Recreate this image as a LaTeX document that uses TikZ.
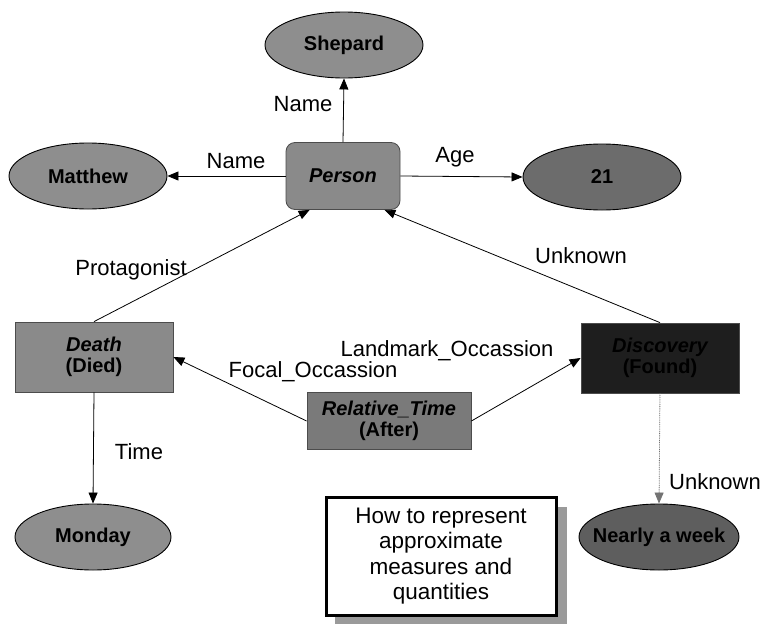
\documentclass[tikz,border=0pt]{standalone}
\usepackage{fontspec}
\setmainfont{Liberation Sans}
\usetikzlibrary{arrows.meta,shapes.geometric}
\definecolor{valfill}{HTML}{8E8E8E}
\definecolor{agefill}{HTML}{6C6C6C}
\definecolor{weekfill}{HTML}{5E5E5E}
\definecolor{framefill}{HTML}{8A8A8A}
\definecolor{relfill}{HTML}{7A7A7A}
\definecolor{discfill}{HTML}{1E1E1E}
\definecolor{shadowfill}{HTML}{9A9A9A}
\tikzset{
  valnode/.style={ellipse, draw=black, line width=0.9pt, fill=valfill,
    minimum width=158pt, minimum height=66pt, inner sep=0pt,
    font=\fontsize{20}{21}\selectfont\bfseries},
  framebox/.style={rectangle, draw=black!70, line width=0.8pt, fill=framefill,
    minimum width=158pt, minimum height=70pt, inner sep=0pt, align=center,
    font=\fontsize{20}{21}\selectfont\bfseries},
  rel/.style={line width=0.8pt, -{Triangle[length=11pt,width=9pt]}},
  lbl/.style={font=\fontsize{22}{24}\selectfont, inner sep=0pt},
}
% value text that does not widen its ellipse
\newcommand{\valtext}[1]{\makebox[0pt]{#1}}
\begin{document}
\begin{tikzpicture}[x=1pt,y=-1pt]
\useasboundingbox (0,0) rectangle (764,627);

% frames and values
\node[framebox, rounded corners=9pt, minimum width=114pt, minimum height=67pt] (person) at (343,176) {\itshape Person};
\node[valnode] (shepard) at (344,45) {\valtext{Shepard}};
\node[valnode] (matthew) at (88,176) {\valtext{Matthew}};
\node[valnode, fill=agefill] (age) at (602,177) {\valtext{21}};

\node[framebox] (death) at (94,357) {\itshape Death\\(Died)};
\node[framebox, fill=discfill] (disc) at (660,358) {\itshape Discovery\\(Found)};
\node[framebox, fill=relfill, minimum width=164pt, minimum height=57pt] (reltime) at (389,421) {\itshape Relative\_Time\\(After)};

\node[valnode, minimum width=156pt] (monday) at (93,537) {\valtext{Monday}};
\node[valnode, fill=weekfill, minimum width=160pt] (week) at (659,537) {\valtext{Nearly a week}};

% note with drop shadow
\fill[shadowfill] (335,507) rectangle (567,624);
\node[rectangle, draw=black, line width=3pt, fill=white, minimum width=230pt, minimum height=118pt,
  align=center, inner sep=0pt, font=\fontsize{22.5}{25.5}\selectfont] (note) at (441,556)
  {How to represent\\approximate\\measures and\\quantities};

% relations
\draw[rel] (person.north) -- (shepard.south);
\draw[rel] (person.west) -- (matthew.east);
\draw[rel] (person.east) -- (age.west);
\draw[rel] (death.north) -- ([xshift=24pt]person.south west);
\draw[rel] (disc.north) -- ([xshift=-16pt]person.south east);
\draw[rel] (reltime.west) -- (death.east);
\draw[rel] (reltime.east) -- (disc.west);
\draw[rel] (death.south) -- (monday.north);
\draw[rel, densely dotted, draw=black!55, fill=black!55] (disc.south) -- (week.north);

% relation labels
\node[lbl] (l-name1) at (303,104) {Name};
\node[lbl] (l-name2) at (236,161) {Name};
\node[lbl] (l-age) at (455,157) {Age};
\node[lbl] (l-prot) at (131,270) {Protagonist};
\node[lbl] (l-unk1) at (581,256) {Unknown};
\node[lbl] (l-land) at (447,351) {Landmark\_Occassion};
\node[lbl] (l-focal) at (313,372) {Focal\_Occassion};
\node[lbl] (l-time) at (139,452) {Time};
\node[lbl] (l-unk2) at (715,482) {Unknown};
\end{tikzpicture}
\end{document}
